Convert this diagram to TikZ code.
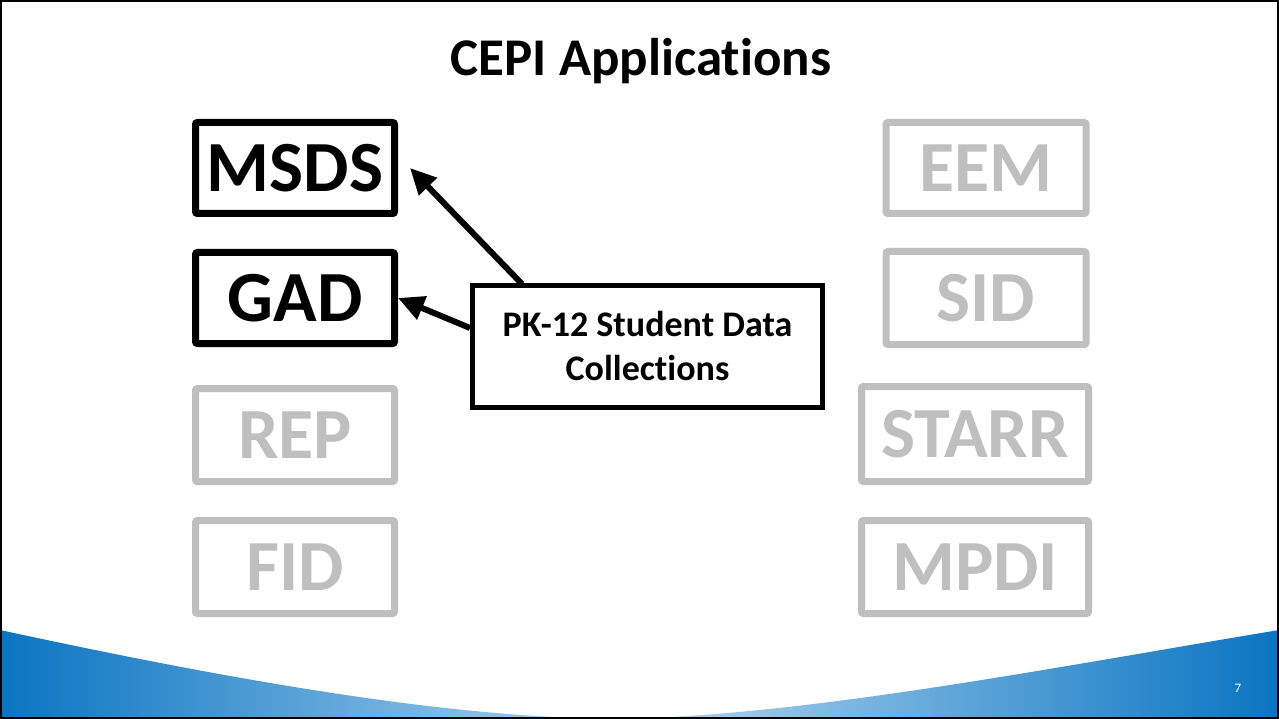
\documentclass[tikz,border=0pt]{standalone}
\usepackage{fontspec}
\setmainfont{Carlito}[RawFeature={-liga;-clig;-dlig}]
\usetikzlibrary{arrows.meta}

\definecolor{dimgray}{HTML}{BFBFBF}
\definecolor{waveblue}{HTML}{0A74C2}
\definecolor{wavelight}{HTML}{B3D6F0}

\tikzset{
    appbox/.style={draw=black, line width=7pt, rounded corners=2pt,
        minimum width=199pt, minimum height=91pt, inner sep=0pt,
        font=\fontsize{72}{80}\selectfont\bfseries},
    dimbox/.style={appbox, draw=dimgray, text=dimgray},
    pointer/.style={line width=6pt, -{Triangle[length=26pt,width=24pt]}}
}

\begin{document}
\begin{tikzpicture}[x=1pt,y=-1pt]
                \useasboundingbox (0,0) rectangle (1279,719);
                % wave at the bottom
                \shade[left color=waveblue, right color=waveblue, middle color=wavelight]
                    (0,630) .. controls (250,684) and (450,717) .. (612,719)
                    .. controls (800,717) and (1050,668) .. (1279,630)
                    -- (1279,719) -- (0,719) -- cycle;
                \draw[line width=2pt] (1,1) rectangle (1278,718);
                \node[font=\fontsize{53}{60}\selectfont\bfseries] (title) at (641,61) {CEPI Applications};
                % left column
                \node[appbox] (msds) at (295,168) {MSDS};
                \node[appbox] (gad) at (295,298) {GAD};
                \node[dimbox, minimum height=93pt] (rep) at (295,435) {REP};
                \node[dimbox, minimum height=93pt] (fid) at (295,567) {FID};
                % right column
                \node[dimbox, minimum width=200pt] (eem) at (986,168) {EEM};
                \node[dimbox, minimum width=200pt, minimum height=93pt] (sid) at (986,298) {SID};
                \node[dimbox, minimum width=227pt, minimum height=95pt] (starr) at (975,434) {STARR};
                \node[dimbox, minimum width=227pt, minimum height=93pt] (mpdi) at (975,567) {MPDI};
                % collections box
                \node[draw, line width=5pt, minimum width=350pt, minimum height=122pt,
                      align=center, font=\fontsize{36}{44}\selectfont\bfseries] (pk) at (647.5,346.5)
                    {PK-12 Student Data\\Collections};
                \coordinate (pktop) at (522,284);
                \coordinate (pkleft) at (470,328);
                \coordinate (msdsend) at (410,168);
                \draw[pointer] (pktop) -- (msdsend);
                \draw[pointer] (pkleft) -- (gad.east);
                \node[text=white, font=\fontsize{13}{15}\selectfont] (page) at (1238,688) {7};
            \end{tikzpicture}
\end{document}
